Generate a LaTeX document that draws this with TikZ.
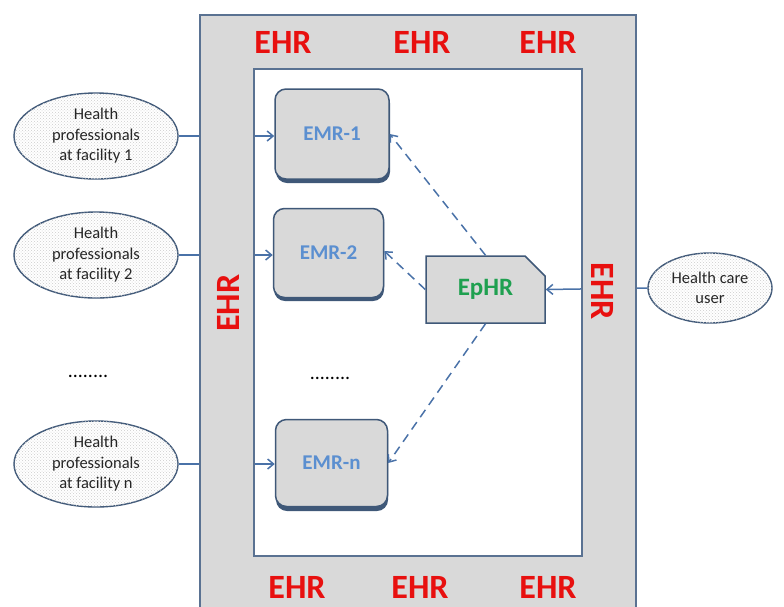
\documentclass[tikz,border=0pt]{standalone}
\usepackage{fontspec}
\setmainfont{Carlito}
\usetikzlibrary{shapes.geometric,shapes.misc,arrows.meta,patterns}
\definecolor{frameblue}{HTML}{5A7292}
\definecolor{lineblue}{HTML}{4A72A8}
\definecolor{boxgray}{HTML}{D9D9D9}
\definecolor{emrtext}{HTML}{5B8FD0}
\definecolor{ephrtext}{HTML}{1FA050}
\definecolor{ehrred}{HTML}{E8100F}
\definecolor{dkborder}{HTML}{3F5878}
\tikzset{
  x=1pt, y=-1pt,
  ell/.style={ellipse, draw=dkborder, line width=1.4pt, fill=white,
    postaction={pattern=crosshatch dots, pattern color=gray!40},
    align=center, font=\fontsize{16.5}{20.5}\selectfont, text=black!85,
    inner sep=0pt},
  emr/.style={rounded corners=11pt, draw=dkborder, line width=1.5pt, fill=boxgray,
    font=\bfseries\fontsize{21}{23}\selectfont, text=emrtext},
  ehr/.style={font=\bfseries\fontsize{34}{36}\selectfont, text=ehrred},
  conn/.style={draw=lineblue, line width=1.5pt, -{Straight Barb[length=6pt,width=10pt]}},
  dconn/.style={conn, dash pattern=on 9pt off 6pt},
  dots/.style={font=\fontsize{20}{22}\selectfont}
}
\begin{document}
\begin{tikzpicture}
\useasboundingbox (0,0) rectangle (784,606);
\clip (0,0) rectangle (784,606);
% ellipses
\node[ell, minimum width=164pt, minimum height=86pt] (hp1) at (96,136) {Health\\professionals\\at facility 1};
\node[ell, minimum width=164pt, minimum height=86pt] (hp2) at (96,255) {Health\\professionals\\at facility 2};
\node[ell, minimum width=164pt, minimum height=86pt] (hpn) at (96,464) {Health\\professionals\\at facility n};
\node[ell, minimum width=124pt, minimum height=70pt] (hcu) at (710,288) {Health care\\user};
% EMR boxes (shadow + box)
\fill[dkborder, rounded corners=11pt] (276,92) rectangle (390,183);
\node[emr, minimum width=114pt, minimum height=90pt] (emr1) at (332,134) {EMR-1};
\fill[dkborder, rounded corners=11pt] (274,211) rectangle (384,301);
\node[emr, minimum width=110pt, minimum height=89pt] (emr2) at (328.5,253) {EMR-2};
\fill[dkborder, rounded corners=11pt] (276,423) rectangle (388,511);
\node[emr, minimum width=112pt, minimum height=87pt] (emrn) at (331.5,463) {EMR-n};
% EpHR
\node[chamfered rectangle, chamfered rectangle corners=north east, chamfered rectangle xsep=10pt, chamfered rectangle ysep=10pt,
  draw=dkborder, line width=1.5pt, fill=boxgray, minimum width=119pt, minimum height=67pt, inner sep=0pt,
  font=\bfseries\fontsize{25}{27}\selectfont, text=ephrtext] (ephr) at (485.5,289.5) {EpHR};
% connectors
\draw[conn] (hp1.east) -- (emr1.west |- hp1.east);
\draw[conn] (hp2.east) -- (emr2.west |- hp2.east);
\draw[conn] (hpn.east) -- (emrn.west |- hpn.east);
\draw[conn] (hcu.west) -- (ephr.east);
\draw[dconn] (ephr.north) -- (emr1.east);
\draw[dconn] (ephr.west) -- ([yshift=2pt]emr2.east);
\draw[dconn] (ephr.south) -- (emrn.east);
% EHR frame
\fill[boxgray, even odd rule] (200,15) rectangle (636,620) (254,69) rectangle (582,556);
\draw[frameblue, line width=1.6pt] (200,15) rectangle (636,620);
\draw[frameblue, line width=1.6pt] (254,69) rectangle (582,556);
\node[ehr] (t1) at (283,42) {EHR};
\node[ehr] (t2) at (422,42) {EHR};
\node[ehr] (t3) at (548,42) {EHR};
\node[ehr] (b1) at (297,587) {EHR};
\node[ehr] (b2) at (420,587) {EHR};
\node[ehr] (b3) at (548,587) {EHR};
\node[ehr, rotate=90] (l1) at (228,303) {EHR};
\node[ehr, rotate=-90] (r1) at (603,291) {EHR};
% dots
\node[dots] (d1) at (88,376) {........};
\node[dots] (d2) at (330,378) {........};
\end{tikzpicture}
\end{document}
